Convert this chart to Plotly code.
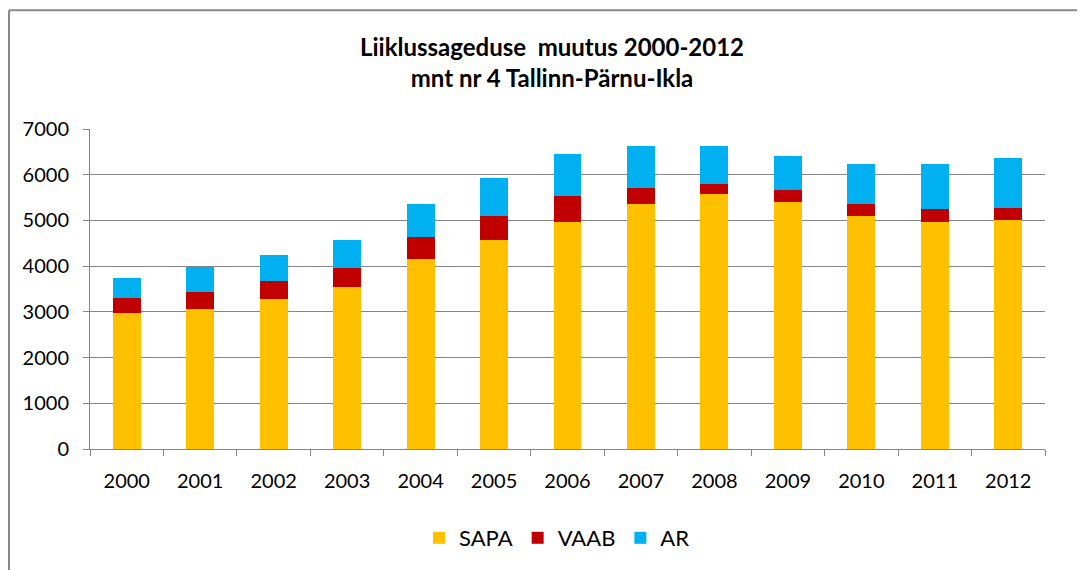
import plotly.graph_objects as go

years = ["2000", "2001", "2002", "2003", "2004", "2005", "2006",
         "2007", "2008", "2009", "2010", "2011", "2012"]
sapa = [2970, 3060, 3275, 3540, 4150, 4580, 4975, 5370, 5585, 5410, 5105, 4975, 5020]
vaab = [340, 385, 390, 425, 480, 525, 565, 345, 215, 260, 260, 270, 260]
ar = [435, 530, 570, 615, 730, 830, 915, 915, 830, 745, 875, 995, 1090]

font_family = "Lato, Carlito, Calibri, sans-serif"
grid_col = "#868686"

W, H = 1077, 562
L, R, T, B = 82, 40, 121, 120
pw = W - L - R
ph = H - T - B

fig = go.Figure()
fig.add_trace(go.Bar(x=years, y=sapa, name="SAPA", marker_color="#FFC000", marker_line_width=0))
fig.add_trace(go.Bar(x=years, y=vaab, name="VAAB", marker_color="#C00000", marker_line_width=0))
fig.add_trace(go.Bar(x=years, y=ar, name="AR", marker_color="#00B0F0", marker_line_width=0))

bx = (1 - L) / pw
by = (ph + T - 2) / ph

fig.update_layout(
    barmode="stack",
    bargap=0.62,
    width=W, height=H,
    paper_bgcolor="white", plot_bgcolor="white",
    margin=dict(l=L, r=R, t=T, b=B),
    font=dict(family=font_family, size=20, color="#000000"),
    title=dict(
        text="<b>Liiklussageduse  muutus 2000-2012<br>mnt nr 4 Tallinn-Pärnu-Ikla</b>",
        x=544 / W, xanchor="center", y=1 - 48 / H, yanchor="middle", yref="container",
        font=dict(family=font_family, size=24, color="#000000"),
    ),
    legend=dict(
        orientation="h", x=(549 - L) / pw, xanchor="center", y=(ph + T - 530) / ph, yanchor="middle",
        font=dict(family=font_family, size=22), itemsizing="constant",
        traceorder="normal",
    ),
    xaxis=dict(
        type="category", showline=True, linecolor=grid_col, linewidth=1,
        ticks="outside", tickson="boundaries", ticklen=6, tickcolor=grid_col,
        showgrid=False, tickfont=dict(size=20), ticklabelstandoff=14,
    ),
    yaxis=dict(
        range=[0, 7000], dtick=1000, showline=True, linecolor=grid_col, linewidth=1,
        ticks="outside", ticklen=6, tickcolor=grid_col,
        showgrid=True, gridcolor=grid_col, gridwidth=1, zeroline=False,
        tickfont=dict(size=20), ticklabelstandoff=10,
    ),
    shapes=[
        dict(type="line", xref="paper", yref="paper", x0=bx, x1=1.2,
             y0=by, y1=by, line=dict(color="#888888", width=2)),
        dict(type="line", xref="paper", yref="paper", x0=bx, x1=bx,
             y0=by, y1=-0.5, line=dict(color="#888888", width=2)),
    ],
)

fig.write_html("out.html")
